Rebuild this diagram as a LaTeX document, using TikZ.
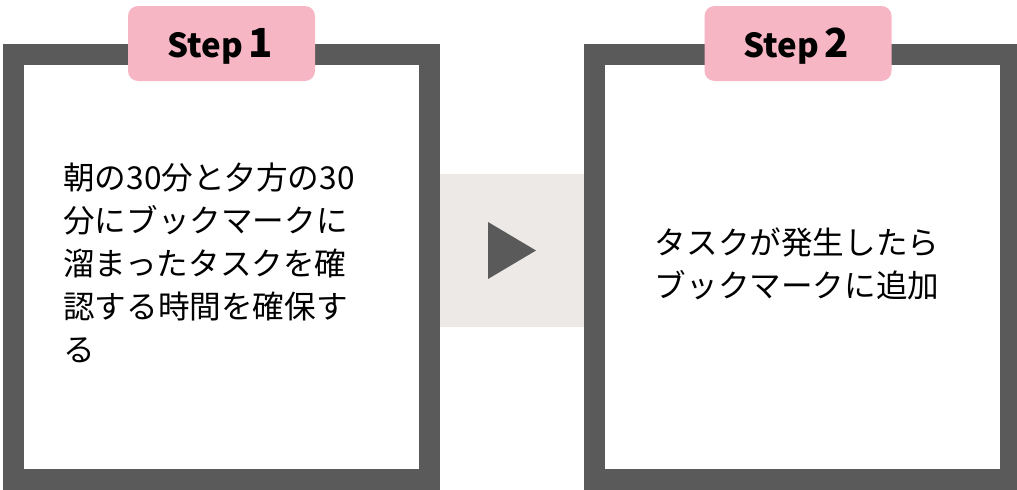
\documentclass[tikz,border=0pt]{standalone}
\usepackage{fontspec}
\setmainfont{Noto Sans CJK JP}
\definecolor{frameGray}{HTML}{5A5A5A}
\definecolor{tagPink}{HTML}{F7B6C4}
\definecolor{bandGray}{HTML}{ECE9E7}
\tikzset{
  framebox/.style={draw=frameGray, line width=15.75pt, fill=white, inner sep=0pt},
  steptag/.style={fill=tagPink, rounded corners=7.5pt, inner sep=0pt, minimum width=140.25pt, minimum height=56.25pt},
  bodytext/.style={inner sep=0pt, font=\fontsize{23.7pt}{32.25pt}\selectfont},
  stepfont/.style={font=\fontsize{24.8pt}{30pt}\selectfont\bfseries},
}
\newcommand{\stepnum}[1]{{\fontsize{30pt}{30pt}\selectfont\bfseries #1}}
\begin{document}
\begin{tikzpicture}[x=0.75pt, y=-0.75pt]
\useasboundingbox (0,0) rectangle (1017,489);
% band with arrow
\node[fill=bandGray, inner sep=0pt, minimum width=108pt, minimum height=114.75pt] (band) at (512,250.5) {};
\fill[frameGray] (488,222) -- (488,279) -- (536,250.5) -- cycle;
% frames
\draw[framebox] (13.5,54) rectangle (429.5,479);
\draw[framebox] (594.5,54) rectangle (1010.5,479);
\node[fill=white, inner sep=0pt, minimum width=296.25pt, minimum height=303pt] (box1) at (221.5,267) {};
\node[fill=white, inner sep=0pt, minimum width=296.25pt, minimum height=303pt] (box2) at (802.5,267) {};
% tags
\node[steptag] (tag1) at (221.5,43.5) {};
\node[steptag] (tag2) at (798,43.5) {};
\node[stepfont, anchor=base west, inner sep=0pt] (tag1text) at (167,57) {Step\hspace{4.5pt}\stepnum{1}};
\node[stepfont, anchor=base west, inner sep=0pt] (tag2text) at (743,57) {Step\hspace{4.5pt}\stepnum{2}};
% body texts
\node[bodytext, anchor=west, align=left] (text1) at (63,263) {朝の30分と夕方の30\\分にブックマークに\\溜まったタスクを確\\認する時間を確保す\\る};
\node[bodytext, align=center] (text2) at (797,264) {タスクが発生したら\\ブックマークに追加};
\end{tikzpicture}
\end{document}
